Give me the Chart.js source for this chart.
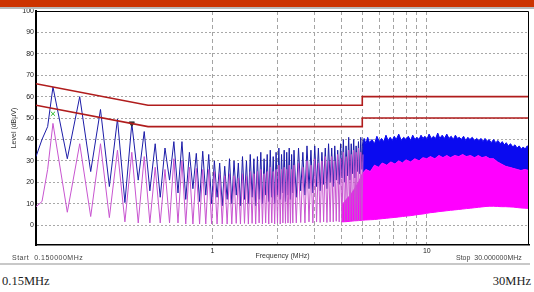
<!DOCTYPE html>
<html>
<head>
<meta charset="utf-8">
<script src="https://cdn.jsdelivr.net/npm/chart.js@4.4.1/dist/chart.umd.min.js"></script>
<style>
  html, body { margin: 0; padding: 0; background: #fff; width: 534px; height: 292px; overflow: hidden; position: relative; }
  #c { position: absolute; left: 0; top: 0; }
  #banner { position: absolute; left: 0; top: 0; width: 534px; height: 7px; background: #cc3300; }
  #bannerLine { position: absolute; left: 0; top: 7px; width: 534px; height: 2px; background: #b8b8b8; }
  .small { position: absolute; font: 7px "Liberation Sans", Arial, sans-serif; color: #444; white-space: pre; }
  #sep { position: absolute; left: 0; top: 263px; width: 530px; height: 2px; background: #c8c8c8; }
  .big { position: absolute; top: 275px; font: 12.5px/13px "Liberation Serif", "Times New Roman", serif; color: #222; }
</style>
</head>
<body>
<canvas id="c" width="534" height="262"></canvas>
<div id="banner"></div>
<div id="bannerLine"></div>
<div class="small" style="left:12px; top:254px; letter-spacing:0.5px;">Start  0.150000MHz</div>
<div class="small" style="left:456px; top:254px;">Stop  30.000000MHz</div>
<div id="sep"></div>
<div class="big" style="left:2px;">0.15MHz</div>
<div class="big" style="right:3px;">30MHz</div>
<script>
// ===== axis ticks =====
const xGridTicks = [1, 2, 3, 4, 5, 6, 7, 8, 9, 10];
const xLabelTicks = [1, 10];
const yTicks = [0, 10, 20, 30, 40, 50, 60, 70, 80, 90, 100];

// ===== limit lines (MHz / dBuV) =====
const limitFreq = [0.15, 0.5, 5, 5, 30];
const qpLimitDb = [66, 56, 56, 60, 60];
const avLimitDb = [56, 46, 46, 50, 50];

// ===== markers =====
const markerFreq = [0.18, 0.42];
const markerDb = [52, 47.5];

// ===== measured traces, resolved harmonics (peak / trough pairs) =====
const traceFreq = [
  0.15, 0.16, 0.17,
  0.18, 0.21, 0.24, 0.27, 0.30, 0.33, 0.36, 0.39, 0.42, 0.45,
  0.48, 0.51, 0.54, 0.57, 0.60, 0.63, 0.66, 0.69, 0.72, 0.75,
  0.78, 0.81, 0.84, 0.87, 0.90, 0.93, 0.96, 0.99, 1.02, 1.05,
  1.08, 1.11, 1.14, 1.17, 1.20, 1.23, 1.26, 1.29, 1.32, 1.35,
  1.38, 1.41, 1.44, 1.47, 1.50, 1.53, 1.56, 1.59, 1.62, 1.65,
  1.68, 1.71, 1.74, 1.77, 1.80, 1.83, 1.86, 1.89, 1.92, 1.95,
  1.98, 2.01, 2.04, 2.07, 2.10, 2.13, 2.16, 2.19, 2.22, 2.25,
  2.28, 2.31, 2.34, 2.37, 2.40, 2.46, 2.52, 2.58, 2.64, 2.70,
  2.76, 2.82, 2.88, 2.94, 3.00, 3.06, 3.12, 3.18, 3.24, 3.30,
  3.36, 3.42, 3.48, 3.54, 3.60, 3.66, 3.72, 3.78, 3.84, 3.90,
  3.96, 4.02, 4.08, 4.14, 4.20, 4.26, 4.32, 4.38, 4.44, 4.50,
  4.56, 4.62, 4.68, 4.74, 4.80, 4.86, 4.92, 4.98, 5.04
];
const peakDb = [
  32, 40, 46,
  64.5, 31, 60, 25, 54, 18, 49.5, 10.5, 47.5, 21,
  43.7, 16, 38, 13, 36, 21, 39, 15, 39, 12,
  34, 17, 33.5, 11, 34.5, 14, 33, 10, 30, 13,
  29, 9, 27.5, 12, 31, 10, 30, 14, 29, 9,
  32, 12, 30, 10, 33, 13, 31, 9, 32, 12,
  34, 10, 31, 14, 33, 11, 35, 13, 32, 10,
  34, 14, 36, 12, 33, 15, 35, 11, 34, 14,
  36, 12, 33, 15, 35, 13, 36, 16, 34, 14,
  37, 17, 35, 15, 37, 18, 36, 16, 34, 19,
  36, 17, 38, 20, 36, 18, 37, 21, 35, 19,
  38, 22, 40, 20, 37, 23, 41, 21, 38, 24,
  40, 22, 37, 25, 39, 24, 41, 26, 40
];
const avgDb = [
  8.6, 11, 26,
  47.5, 6, 38, 4, 38, 3.5, 35, 1.5, 34, 1,
  32, 1, 27, 1, 26, 1, 31, 1, 30, 0.5,
  27, 0.5, 26.5, 0.5, 26, 0.5, 26, 0.5, 25, 0.5,
  24, 0.5, 23, 0.5, 24, 0.5, 23, 0.8, 22, 0.5,
  24, 0.8, 23, 0.5, 25, 0.8, 24, 0.5, 25, 1,
  26, 0.5, 24, 1, 25, 0.5, 27, 1, 25, 0.5,
  26, 1, 28, 0.5, 26, 1, 27, 0.8, 26, 1,
  28, 0.8, 26, 1, 28, 1, 29, 1.2, 27, 1,
  30, 1.5, 28, 1, 31, 1.5, 29, 1.2, 30, 1.5,
  32, 1.2, 30, 1.5, 32, 1.5, 30, 1.8, 33, 1.5,
  31, 1.8, 34, 1.5, 32, 2, 35, 1.8, 33, 2,
  35, 2, 34, 2.2, 36, 2, 34, 2.3, 33
];

// ===== unresolved band above ~4 MHz (average envelopes) =====
const avgBandFreq = [
  4.0, 4.2, 4.4, 4.6, 4.8, 5.0, 5.2, 5.45, 5.7, 5.95,
  6.2, 6.5, 6.8, 7.1, 7.4, 7.7, 8.0, 8.4, 8.8, 9.2,
  9.6, 10, 10.4, 10.9, 11.4, 11.9, 12.4, 12.9, 13.5, 14.1,
  14.7, 15.3, 16, 16.7, 17.4, 18.1, 18.9, 19.7, 20.5, 21.4,
  22.3, 23.3, 24.3, 25.3, 26.4, 27.5, 28.7, 30
];
const avgBandHigh = [
  9, 12, 14, 17, 20, 24, 26, 25, 28, 27,
  29, 28, 29.5, 28.5, 30, 29, 30.5, 29.5, 31, 30,
  31.5, 31, 32, 31, 32.5, 31.5, 32.5, 31.5, 32.5, 32,
  33, 32, 32.5, 31.5, 32.5, 31.5, 32, 31, 31, 29.5,
  28.5, 27.5, 27, 26.5, 26, 25.5, 26, 25.5
];
const avgBandLow = [
  1.5, 1.6, 1.8, 2, 2.1, 2.3, 2.4, 2.5, 2.6, 2.8,
  3, 3.2, 3.4, 3.6, 3.8, 4, 4.2, 4.4, 4.7, 5,
  5.2, 5.5, 5.8, 6, 6.3, 6.5, 6.7, 6.9, 7.1, 7.3,
  7.5, 7.7, 7.9, 8.1, 8.3, 8.5, 8.7, 8.8, 8.8, 8.7,
  8.6, 8.6, 8.5, 8.4, 8.2, 8, 7.9, 7.8
];

// ===== unresolved band above 5 MHz (peak top edge) =====
const peakBandFreq = [
  5.0, 5.1, 5.2, 5.3, 5.4, 5.55, 5.7, 5.85, 6.0, 6.15,
  6.3, 6.45, 6.6, 6.75, 6.9, 7.05, 7.2, 7.4, 7.6, 7.8,
  8.0, 8.2, 8.4, 8.6, 8.8, 9.0, 9.2, 9.4, 9.6, 9.8,
  10.0, 10.25, 10.5, 10.75, 11.0, 11.25, 11.5, 11.8, 12.1, 12.4,
  12.7, 13.0, 13.3, 13.6, 13.9, 14.2, 14.5, 14.85, 15.2, 15.55,
  15.9, 16.3, 16.7, 17.1, 17.5, 17.9, 18.3, 18.7, 19.1, 19.5,
  20.0, 20.5, 21.0, 21.5, 22.0, 22.5, 23.0, 23.5, 24.0, 24.6,
  25.2, 25.8, 26.4, 27.0, 27.6, 28.2, 28.8, 29.4, 30.0
];
const peakBandHigh = [
  37, 40.5, 38, 41, 38.5, 40, 38, 41.5, 39, 40.5,
  39, 42, 39.5, 41, 39.5, 41.5, 40, 42.5, 39.5, 41,
  40, 41.5, 39.5, 42, 40, 41, 40, 42, 40.5, 41.5,
  40, 42.5, 40.5, 41.5, 40.5, 43, 40.5, 42, 40.5, 42.5,
  40.5, 41.5, 40, 42, 40.5, 41, 40, 41.5, 39.5, 41,
  40, 41, 39.5, 40.5, 39.5, 40.5, 39, 40.5, 39, 40,
  38.5, 40, 38.5, 39.5, 38, 39, 37.5, 38.5, 37, 38,
  36.5, 37.5, 36, 37, 35.5, 36.5, 35.5, 37, 36.5
];

const pts = (xs, ys) => xs.map((x, i) => ({ x: x, y: ys[i] }));
const FONT = '"Liberation Sans", Arial, sans-serif';

// top and right edges of the plot frame
const framePlugin = {
  id: 'frame',
  afterDraw(chart) {
    const { ctx, chartArea: a } = chart;
    ctx.save();
    ctx.strokeStyle = '#000';
    ctx.lineWidth = 1;
    ctx.beginPath();
    ctx.moveTo(a.left, a.top + 0.5);
    ctx.lineTo(a.right - 0.5, a.top + 0.5);
    ctx.lineTo(a.right - 0.5, a.bottom);
    ctx.stroke();
    ctx.restore();
  }
};

new Chart(document.getElementById('c'), {
  type: 'line',
  data: {
    datasets: [
      { label: 'QP limit', data: pts(limitFreq, qpLimitDb), borderColor: '#b01c1c', borderWidth: 1.6, order: 0 },
      { label: 'AV limit', data: pts(limitFreq, avLimitDb), borderColor: '#b01c1c', borderWidth: 1.6, order: 0 },
      {
        label: 'Markers', data: pts(markerFreq, markerDb), showLine: false,
        pointRadius: 3, pointStyle: ['crossRot', 'triangle'], pointRotation: [0, 180],
        borderColor: ['#2db82d', '#333'], backgroundColor: ['#2db82d', '#333'], borderWidth: 1, order: 0
      },
      { label: 'Average', data: pts(traceFreq, avgDb), borderColor: '#c855d0', borderWidth: 1, order: 1 },
      { label: 'Peak', data: pts(traceFreq, peakDb), borderColor: '#1c1ca8', borderWidth: 1, order: 2 },
      { label: 'Average band', data: pts(avgBandFreq, avgBandHigh), borderColor: '#ff00ff', backgroundColor: '#ff00ff', borderWidth: 1, fill: 6, order: 3 },
      { label: 'Average band low', data: pts(avgBandFreq, avgBandLow), borderColor: '#ff00ff', borderWidth: 1, fill: false, order: 4 },
      { label: 'Peak band', data: pts(peakBandFreq, peakBandHigh), borderColor: '#0a0af0', backgroundColor: '#0a0af0', borderWidth: 1, fill: 5, order: 5 }
    ]
  },
  options: {
    responsive: false,
    animation: false,
    devicePixelRatio: 1,
    layout: { padding: { left: 0, right: 2, top: 11, bottom: 0 } },
    elements: { line: { tension: 0 }, point: { radius: 0 } },
    plugins: { legend: { display: false }, tooltip: { enabled: false } },
    scales: {
      x: {
        type: 'logarithmic',
        min: 0.15,
        max: 30,
        afterBuildTicks: (s) => { s.ticks = xGridTicks.map(v => ({ value: v })); },
        afterFit: (s) => { s.height = 17; },
        ticks: {
          autoSkip: false, maxRotation: 0, padding: 2, color: '#222',
          font: { size: 7, family: FONT },
          callback: (v) => xLabelTicks.includes(v) ? String(v) : ''
        },
        grid: { color: '#a4a4a4', lineWidth: 1, drawTicks: false, borderDash: [4, 3] },
        border: { display: true, color: '#000', width: 1.5, dash: [4, 3] },
        title: { display: true, text: 'Frequency (MHz)', color: '#333', font: { size: 7, family: FONT }, padding: { top: 0, bottom: 2 } }
      },
      y: {
        min: -9.3,
        max: 100,
        afterBuildTicks: (s) => { s.ticks = yTicks.map(v => ({ value: v })); },
        afterFit: (s) => { s.width = 36; },
        ticks: { padding: 2, color: '#222', font: { size: 7, family: FONT }, callback: (v) => String(v) },
        grid: { color: '#a8a8a8', lineWidth: 1, drawTicks: false, borderDash: [2, 2] },
        border: { display: true, color: '#000', width: 2, dash: [2, 2] },
        title: { display: true, text: 'Level (dBµV)', color: '#333', font: { size: 7, family: FONT }, padding: { top: 10, bottom: 0 } }
      }
    }
  },
  plugins: [framePlugin]
});
</script>
</body>
</html>
